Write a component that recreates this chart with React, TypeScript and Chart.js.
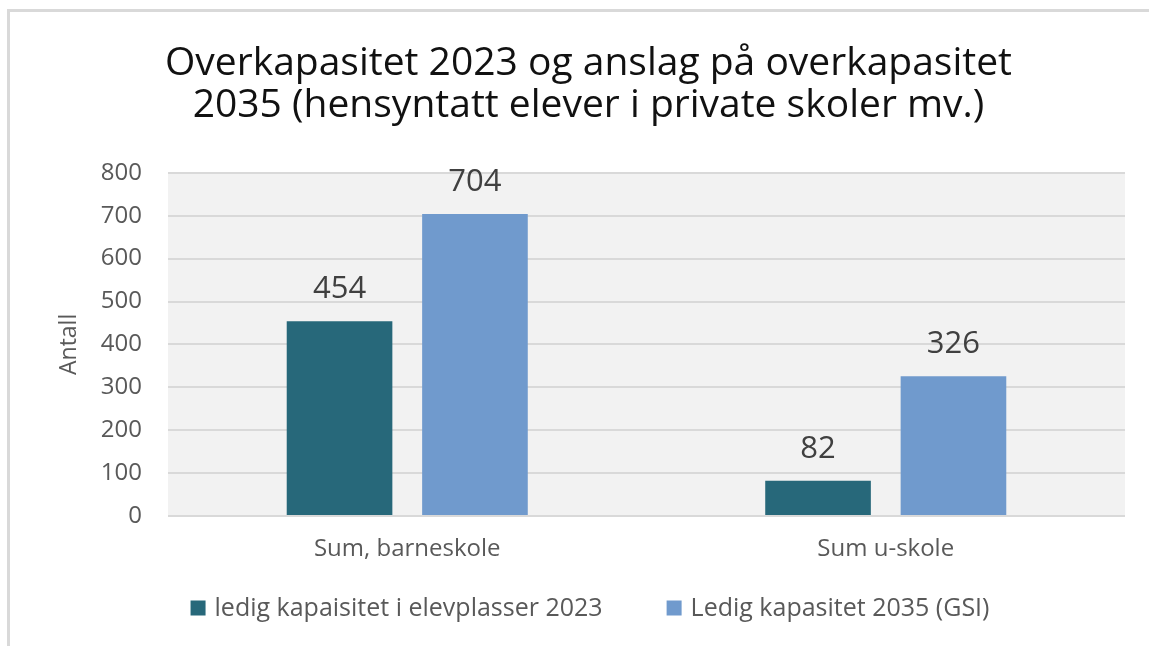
import React, { useEffect, useRef } from "react";
import { Chart, registerables } from "chart.js";

Chart.register(...registerables);

const categories = ["Sum, barneskole", "Sum u-skole"];
const series2023 = [454, 82];
const series2035 = [704, 326];
const seriesNames = ["ledig kapaisitet i elevplasser 2023", "Ledig kapasitet 2035 (GSI)"];
const seriesColors = ["#27687a", "#709acd"];
const titleLines = ["Overkapasitet 2023 og anslag på overkapasitet", "2035 (hensyntatt elever i private skoler mv.)"];
const yTitle = "Antall";

const FONT = "'Open Sans', sans-serif";

const plotBg = {
  id: "plotBg",
  beforeDraw(chart: any) {
    const { ctx, chartArea } = chart;
    ctx.save();
    ctx.fillStyle = "#f2f2f2";
    ctx.fillRect(chartArea.left, chartArea.top, chartArea.right - chartArea.left, chartArea.bottom - chartArea.top);
    ctx.restore();
  },
};

const dataLabels = {
  id: "dataLabels",
  afterDatasetsDraw(chart: any) {
    const { ctx } = chart;
    ctx.save();
    ctx.font = `31px ${FONT}`;
    ctx.fillStyle = "#404040";
    ctx.textAlign = "center";
    ctx.textBaseline = "middle";
    chart.data.datasets.forEach((ds: any, i: number) => {
      const meta = chart.getDatasetMeta(i);
      meta.data.forEach((bar: any, j: number) => {
        ctx.fillText(String(ds.data[j]), bar.x, bar.y - 32);
      });
    });
    ctx.restore();
  },
};

// Bottom legend drawn with Excel-like spacing
const bottomLegend = {
  id: "bottomLegend",
  afterDraw(chart: any) {
    const { ctx } = chart;
    const box = 15;
    const textGap = 9;
    const itemGap = 64;
    const y = 609;
    ctx.save();
    ctx.font = `25px ${FONT}`;
    ctx.textBaseline = "middle";
    ctx.textAlign = "left";
    const items = chart.data.datasets.map((ds: any) => ({
      text: ds.label,
      color: ds.backgroundColor,
      w: box + textGap + ctx.measureText(ds.label).width,
    }));
    const total = items.reduce((s: number, it: any) => s + it.w, 0) + itemGap * (items.length - 1);
    let x = 590 - total / 2;
    items.forEach((it: any) => {
      ctx.fillStyle = it.color;
      ctx.fillRect(x, y - box / 2 - 1, box, box);
      ctx.fillStyle = "#595959";
      ctx.fillText(it.text, x + box + textGap, y);
      x += it.w + itemGap;
    });
    ctx.restore();
  },
};

export default function App() {
  const ref = useRef<HTMLCanvasElement>(null);
  useEffect(() => {
    if (!ref.current) return;
    const chart = new Chart(ref.current, {
      type: "bar",
      data: {
        labels: categories,
        datasets: [
          { label: seriesNames[0], data: series2023, backgroundColor: seriesColors[0], categoryPercentage: 0.566, barPercentage: 0.78 },
          { label: seriesNames[1], data: series2035, backgroundColor: seriesColors[1], categoryPercentage: 0.566, barPercentage: 0.78 },
        ],
      },
      options: {
        animation: false,
        responsive: false,
        maintainAspectRatio: false,
        layout: { padding: { left: 52, right: 24, top: 20, bottom: 83 } },
        plugins: {
          title: {
            display: true,
            text: titleLines,
            color: "#111111",
            font: { family: FONT, size: 39, weight: "normal", lineHeight: 1.1 },
            padding: { top: 22, bottom: 45 },
          },
          legend: { display: false },
          tooltip: { enabled: false },
        },
        scales: {
          x: {
            grid: { display: false, drawTicks: false },
            border: { display: false },
            ticks: { color: "#595959", font: { family: FONT, size: 24 }, padding: 19 },
            afterFit(scale: any) {
              scale.height = 47;
            },
          },
          y: {
            min: 0,
            max: 800,
            ticks: { stepSize: 100, color: "#595959", font: { family: FONT, size: 24 }, padding: 26 },
            grid: { color: "#d9d9d9", lineWidth: 2, drawTicks: false },
            border: { display: false },
            title: { display: true, text: yTitle, color: "#595959", font: { family: FONT, size: 23 }, padding: 4 },
            afterFit(scale: any) {
              scale.width = 116;
            },
          },
        },
      },
      plugins: [plotBg, dataLabels, bottomLegend],
    });
    return () => chart.destroy();
  }, []);

  return (
    <div style={{ position: "fixed", left: 0, top: 0, width: 1149, height: 646, overflow: "hidden", background: "#fff" }}>
      <div
        style={{
          position: "absolute",
          left: 7,
          top: 9,
          width: 1300,
          height: 800,
          borderLeft: "3px solid #d9d9d9",
          borderTop: "3px solid #d9d9d9",
        }}
      />
      <canvas ref={ref} width={1149} height={646} style={{ position: "absolute", left: 0, top: 0, width: 1149, height: 646 }} />
    </div>
  );
}
